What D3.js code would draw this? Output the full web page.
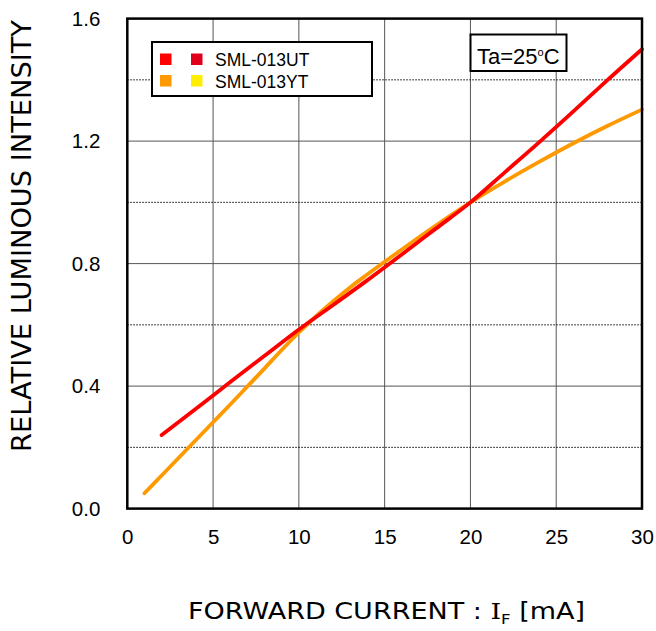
<!DOCTYPE html>
<meta charset="utf-8">
<style>
body { margin: 0; background: #fff; }
text { font-family: "Liberation Sans", Arial, sans-serif; fill: #000; }
.title { font-family: "DejaVu Sans", Verdana, sans-serif; }
.grid-solid line { stroke: #555; stroke-width: 1; }
.grid-dot line { stroke: #000; stroke-width: 1; stroke-dasharray: 1.5,1.5; }
</style>
<svg width="656" height="631"></svg>
<script src="https://d3js.org/d3.v7.min.js"></script>
<script>

// forward current (mA) and relative luminous intensity
var utCurrent = [2, 4, 6, 8, 10, 12, 14, 16, 18, 20, 22, 24, 26, 28, 30];
var utValue   = [0.24, 0.326, 0.413, 0.499, 0.585, 0.665, 0.746, 0.83, 0.915, 1.0, 1.098, 1.196, 1.297, 1.40, 1.50];

var ytCurrent = [1, 2, 3, 4, 5, 6, 7, 8, 9, 10, 11, 12, 13, 14, 15, 16, 17, 18, 19, 20, 22, 24, 26, 28, 30];
var ytValue   = [0.05, 0.108, 0.166, 0.224, 0.282, 0.34, 0.399, 0.458, 0.518, 0.575, 0.628, 0.677, 0.723, 0.765, 0.806, 0.846, 0.886, 0.925, 0.963, 1.0, 1.068, 1.132, 1.193, 1.250, 1.303];

var legendNames  = ["SML-013UT", "SML-013YT"];
var legendColors = [["#ff0000", "#e0001b"], ["#ff9900", "#ffee00"]];
var lineColors   = ["#ff0000", "#ff9900"];

var xTicks = [0, 5, 10, 15, 20, 25, 30];
var yTicks = [0.0, 0.4, 0.8, 1.2, 1.6];
var yDotted = [0.2, 0.6, 1.0, 1.4];

var svg = d3.select("svg");
var pLeft = 127.3, pTop = 18.6, pRight = 642, pBottom = 508.6;

var x = d3.scaleLinear().domain([0, 30]).range([pLeft, pRight]);
var y = d3.scaleLinear().domain([0, 1.6]).range([pBottom, pTop]);

// grid
svg.append("g").attr("class", "grid-solid")
  .selectAll("line").data(xTicks.slice(1, -1)).enter().append("line")
  .attr("x1", d => x(d)).attr("x2", d => x(d)).attr("y1", pTop).attr("y2", pBottom);
svg.append("g").attr("class", "grid-solid")
  .selectAll("line").data(yTicks.slice(1, -1)).enter().append("line")
  .attr("y1", d => y(d)).attr("y2", d => y(d)).attr("x1", pLeft).attr("x2", pRight);
svg.append("g").attr("class", "grid-dot")
  .selectAll("line").data(yDotted).enter().append("line")
  .attr("y1", d => y(d)).attr("y2", d => y(d)).attr("x1", pLeft).attr("x2", pRight);

// axes (labels only, frame drawn separately)
var xAxis = svg.append("g").attr("transform", "translate(0," + pBottom + ")")
  .call(d3.axisBottom(x).tickValues(xTicks).tickSize(0).tickPadding(21).tickFormat(d3.format("d")));
var yAxis = svg.append("g").attr("transform", "translate(" + pLeft + ",0)")
  .call(d3.axisLeft(y).tickValues(yTicks).tickSize(0).tickPadding(27).tickFormat(d3.format(".1f")));
[xAxis, yAxis].forEach(function(a) {
  a.select(".domain").remove();
  a.selectAll("text").style("font-size", "20.5px").style("font-family", "'Liberation Sans', Arial, sans-serif");
});

// curves
var line = d3.line().curve(d3.curveMonotoneX).x(d => x(d[0])).y(d => y(d[1]));
var series = [d3.zip(ytCurrent, ytValue), d3.zip(utCurrent, utValue)];
svg.append("g").selectAll("path").data(series).enter().append("path")
  .attr("d", line)
  .attr("fill", "none")
  .attr("stroke", (d, i) => i === 0 ? lineColors[1] : lineColors[0])
  .attr("stroke-width", 3.8)
  .attr("stroke-linecap", "round");

// frame
svg.append("rect").attr("x", pLeft).attr("y", pTop)
  .attr("width", pRight - pLeft).attr("height", pBottom - pTop)
  .attr("fill", "none").attr("stroke", "#000").attr("stroke-width", 2.5);

// legend
var lg = svg.append("g");
lg.append("rect").attr("x", 152).attr("y", 42).attr("width", 220).attr("height", 54)
  .attr("fill", "#fff").attr("stroke", "#000").attr("stroke-width", 2);
legendNames.forEach(function(name, i) {
  var yy = 53.5 + i * 21.5;
  legendColors[i].forEach(function(c, j) {
    lg.append("rect").attr("x", 160 + j * 31).attr("y", yy).attr("width", 11.5).attr("height", 11.5).attr("fill", c);
  });
  lg.append("text").attr("x", 215).attr("y", yy + 12.5).style("font-size", "17.5px").text(name);
});

// temperature note
svg.append("rect").attr("x", 470.5).attr("y", 34.5).attr("width", 96).attr("height", 36.5)
  .attr("fill", "#fff").attr("stroke", "#000").attr("stroke-width", 2);
var ta = svg.append("text").attr("x", 477).attr("y", 63.5).style("font-size", "22px");
ta.append("tspan").text("Ta=25");
ta.append("tspan").attr("dy", -8).style("font-size", "11px").text("o");
ta.append("tspan").attr("dy", 8).text("C");

// axis titles
svg.append("text").attr("class", "title")
  .attr("transform", "translate(30.5,236) rotate(-90)")
  .attr("text-anchor", "middle").style("font-size", "26px")
  .attr("textLength", 432).attr("lengthAdjust", "spacingAndGlyphs")
  .text("RELATIVE LUMINOUS INTENSITY");
var xt = svg.append("text").attr("class", "title")
  .attr("x", 188).attr("y", 619.3).style("font-size", "23px")
  .attr("textLength", 397).attr("lengthAdjust", "spacingAndGlyphs");
xt.append("tspan").text("FORWARD CURRENT : ");
xt.append("tspan").style("font-family", "'DejaVu Serif', serif").text("I");
xt.append("tspan").attr("dy", 5).style("font-size", "14px").text("F");
xt.append("tspan").attr("dy", -5).text(" [mA]");

</script>
